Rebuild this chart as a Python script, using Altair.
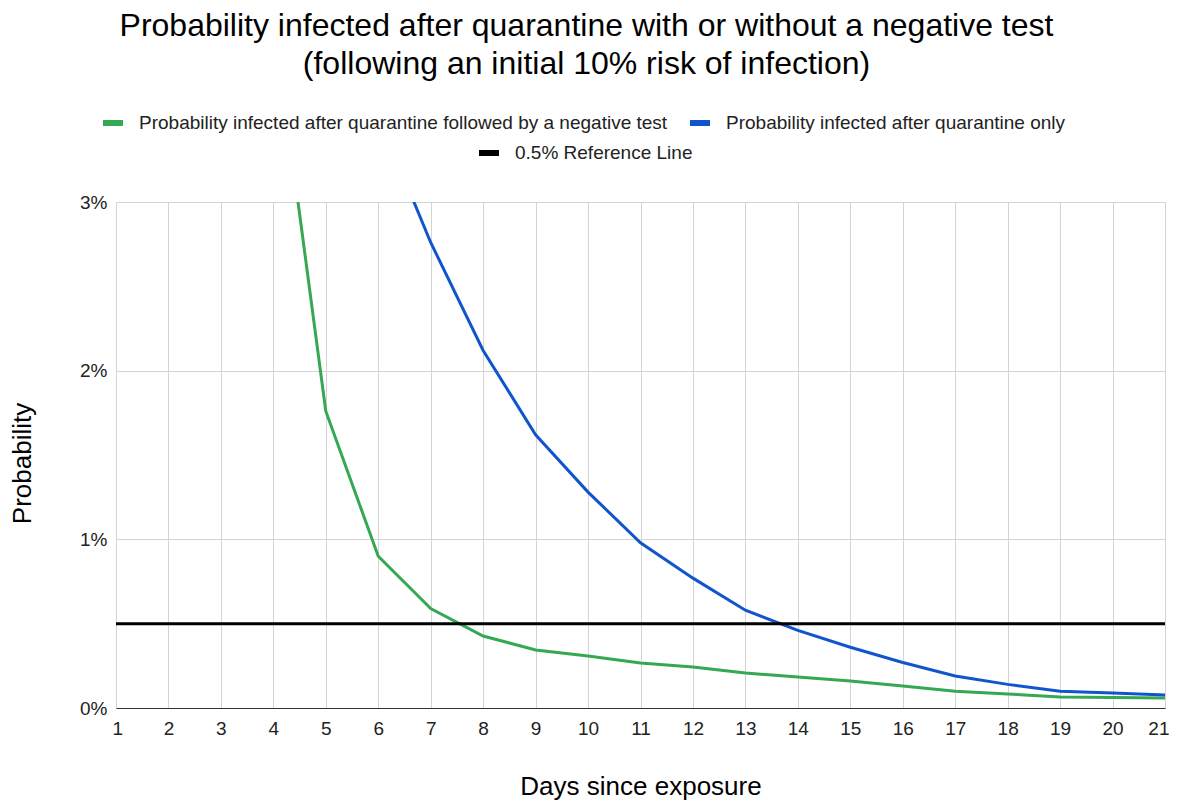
import altair as alt
import pandas as pd

days = list(range(1, 22))
green_name = "Probability infected after quarantine followed by a negative test"
blue_name = "Probability infected after quarantine only"
ref_name = "0.5% Reference Line"

green_vals = [0.100, 0.095, 0.075, 0.041, 0.0176, 0.0090, 0.0059, 0.00427, 0.00344,
              0.00308, 0.00267, 0.00243, 0.00207, 0.00184, 0.00160, 0.00130,
              0.00100, 0.00083, 0.00065, 0.00062, 0.00059]
blue_vals = [0.100, 0.095, 0.080, 0.060, 0.045, 0.0351, 0.0276, 0.0212, 0.0162,
             0.0128, 0.0098, 0.0077, 0.0058, 0.0046, 0.0036, 0.0027,
             0.0019, 0.0014, 0.0010, 0.00089, 0.00077]
ref_value = [0.005]

FONT = "Liberation Sans"

df = pd.DataFrame({"day": days * 2,
                   "prob": green_vals + blue_vals,
                   "series": [green_name] * len(days) + [blue_name] * len(days)})
ref_df = pd.DataFrame({"series": [ref_name], "prob": ref_value})

x_enc = alt.X("day:Q",
              scale=alt.Scale(domain=[1, 21], nice=False, zero=False),
              axis=alt.Axis(title="Days since exposure", values=days, format="d",
                            grid=True, gridColor="#d4d4d4", ticks=False,
                            domainColor="#333333", labelFontSize=19,
                            labelFlush=True, labelFlushOffset=4,
                            labelPadding=11, titlePadding=35,
                            titleFontSize=26, titleFontWeight="normal"))
y_scale = alt.Scale(domain=[0, 0.03], nice=False, zero=True)

lines = alt.Chart(df).mark_line(strokeWidth=3, clip=True).encode(
    x=x_enc,
    y=alt.Y("prob:Q", scale=y_scale,
            axis=alt.Axis(title="Probability", values=[0, 0.01, 0.02, 0.03],
                          format=".0%", grid=True, gridColor="#d4d4d4", ticks=False,
                          domain=False, labelFontSize=19, labelPadding=9,
                          labelFlush=False, titleY=261,
                          titlePadding=44, titleFontSize=26,
                          titleFontWeight="normal")),
    color=alt.Color("series:N",
                    scale=alt.Scale(domain=[green_name, blue_name],
                                    range=["#34a853", "#1155cc"]),
                    legend=alt.Legend(title=None, orient="none", legendX=-16,
                                      legendY=-92, direction="horizontal",
                                      symbolType="stroke", symbolStrokeWidth=6,
                                      symbolSize=400, labelFontSize=19,
                                      labelLimit=1000, columnPadding=10,
                                      labelOffset=13)),
)

ref = alt.Chart(ref_df).mark_rule(strokeWidth=3).encode(
    y=alt.Y("prob:Q", scale=y_scale),
    color=alt.Color("series:N",
                    scale=alt.Scale(domain=[ref_name], range=["#000000"]),
                    legend=alt.Legend(title=None, orient="none", legendX=360,
                                      legendY=-62, direction="horizontal",
                                      symbolType="stroke", symbolStrokeWidth=6,
                                      symbolSize=400, labelFontSize=19,
                                      labelLimit=1000, labelOffset=13)),
)

chart = alt.layer(lines, ref).resolve_scale(color="independent").properties(
    width=1049, height=506,
    autosize=alt.AutoSizeParams(type="none"),
    padding={"left": 108, "top": 194, "right": 4, "bottom": 93},
    title=alt.TitleParams(
        ["Probability infected after quarantine with or without a negative test",
         "(following an initial 10% risk of infection)"],
        fontSize=32, fontWeight="normal", font=FONT, color="#000000",
        anchor="middle", dx=-54, lineHeight=38, offset=29),
).configure(font=FONT).configure_axis(
    labelFont=FONT, titleFont=FONT, labelColor="#222222", titleColor="#000000"
).configure_legend(labelFont=FONT, labelColor="#222222").configure_view(stroke=None)

chart.save("out.html", embed_options={"renderer": "svg", "actions": False})
